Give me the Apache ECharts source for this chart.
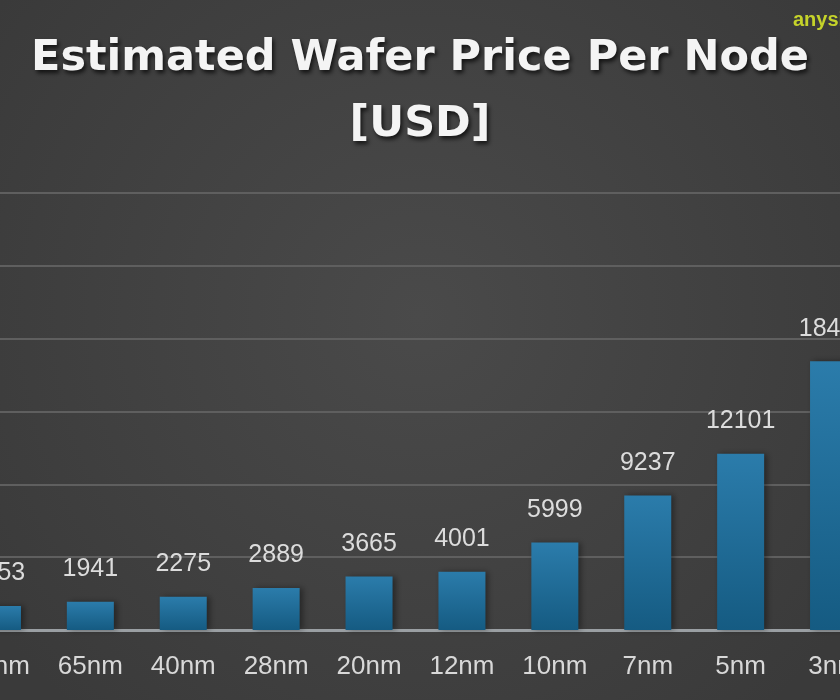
<!DOCTYPE html>
<html><head><meta charset="utf-8">
<script src="https://cdn.jsdelivr.net/npm/echarts@6/dist/echarts.min.js"></script>
<style>html,body{margin:0;padding:0;background:#444;}#c{width:840px;height:700px;}</style>
</head><body><div id="c"></div>
<script>
const categories = ['90nm','65nm','40nm','28nm','20nm','12nm','10nm','7nm','5nm','3nm'];
const prices = [1653, 1941, 2275, 2889, 3665, 4001, 5999, 9237, 12101, 18445];
const titleText = 'Estimated Wafer Price Per Node\n[USD]';
const watermark = 'anysilicon';

const chart = echarts.init(document.getElementById('c'), null, {renderer:'canvas'});
chart.setOption({
  backgroundColor: {
    type:'radial', x:0.5, y:0.45, r:0.75,
    colorStops:[{offset:0,color:'#4a4a4a'},{offset:1,color:'#3a3a3a'}]
  },
  animation:false,
  title:{
    text:titleText, left:'center', top:21,
    textStyle:{
      fontFamily:'DejaVu Sans', fontWeight:'bold', fontSize:43,
      color:'#f4f4f4', lineHeight:66,
      textShadowColor:'rgba(0,0,0,0.7)', textShadowBlur:4, textShadowOffsetX:2, textShadowOffsetY:3
    }
  },
  graphic:[{
    type:'text', left:793, top:10,
    style:{text:watermark, fill:'#c5d32a', font:'bold 20px "Liberation Sans"'}
  }],
  grid:{left:-49, right:-40, top:193, bottom:70, outerBoundsMode:'none', containLabel:false},
  xAxis:{
    type:'category', data:categories,
    axisTick:{show:false},
    axisLine:{lineStyle:{color:'#9a9fa3', width:3}},
    axisLabel:{interval:0, color:'#d8d8d8', fontSize:26, fontFamily:'Liberation Sans', margin:24, hideOverlap:false}
  },
  yAxis:{
    type:'value', min:0, max:30000, interval:5000,
    axisLabel:{show:false}, axisLine:{show:false}, axisTick:{show:false},
    splitLine:{lineStyle:{color:'#5f5f5f', width:2}}
  },
  series:[{
    type:'bar', data:prices, barWidth:47,
    itemStyle:{
      color:{type:'linear',x:0,y:0,x2:0,y2:1,colorStops:[{offset:0,color:'#2b7cab'},{offset:1,color:'#155b82'}]},
      shadowColor:'rgba(0,0,0,0.4)', shadowBlur:6, shadowOffsetX:3
    },
    label:{show:true, position:'top', distance:20, color:'#dcdcdc', fontSize:25, fontFamily:'Liberation Sans'}
  }]
});
</script></body></html>
